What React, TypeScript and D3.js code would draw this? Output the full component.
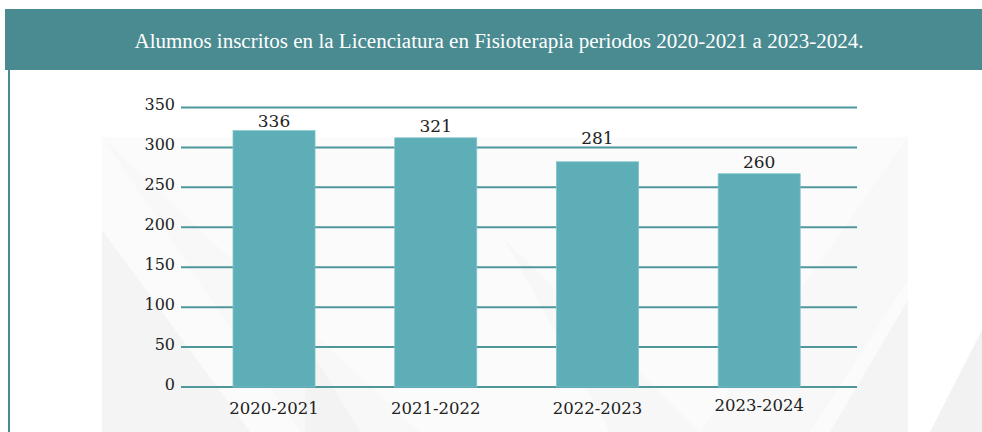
import React from "react";
import * as d3 from "d3";

const title = "Alumnos inscritos en la Licenciatura en Fisioterapia periodos 2020-2021 a 2023-2024.";
const periods = ["2020-2021", "2021-2022", "2022-2023", "2023-2024"];
// value labels printed above the bars
const labelValues = [336, 321, 281, 260];
const barValues = [321, 312, 282, 267];
const yTicks = [0, 50, 100, 150, 200, 250, 300, 350];

const W = 982;
const H = 432;

export default function App() {
  const x = d3.scaleBand<string>().domain(periods).range([192.6, 840.6]).paddingInner(0.493).paddingOuter(0.25);
  const y = d3.scaleLinear().domain([0, 350]).range([387, 107.5]);
  const gridX0 = 181;
  const gridX1 = 857;
  const numFont = "'DejaVu Serif', serif";
  const labelOffsets = [4, 6, 18, 6];

  return (
    <svg width={W} height={H} style={{ position: "absolute", left: 0, top: 0, display: "block" }}>
      <rect x={0} y={0} width={W} height={H} fill="#ffffff" />
      {/* faint watermark */}
      <g>
        <rect x={102} y={137} width={806} height={295} fill="#fbfbfb" />
        <polygon points="102,230 102,432 250,432" fill="#f4f4f4" />
        <polygon points="102,137 300,432 420,432 200,230" fill="#f7f7f7" opacity={0.7} />
        <polygon points="305,340 305,432 360,432" fill="#f0f0f0" opacity={0.6} />
        <polygon points="505,240 610,432 700,432" fill="#f5f5f5" opacity={0.7} />
        <polygon points="908,137 700,432 810,432 908,280" fill="#f6f6f6" opacity={0.7} />
        <polygon points="908,300 830,432 908,432" fill="#f0f0f0" opacity={0.6} />
        <polygon points="982,330 930,432 982,432" fill="#f2f2f2" />
      </g>
      {/* header */}
      <rect x={5} y={9} width={977} height={61} fill="#4a8b91" />
      <text
        x={499}
        y={48}
        textAnchor="middle"
        fill="#ffffff"
        fontFamily="'Liberation Serif', serif"
        fontSize={20}
        textLength={729}
        lengthAdjust="spacingAndGlyphs"
      >
        {title}
      </text>
      {/* left frame line */}
      <rect x={8} y={70} width={2} height={362} fill="#4a8b91" />
      {/* gridlines */}
      {yTicks.map((t) => (
        <line key={t} x1={gridX0} x2={gridX1} y1={y(t)} y2={y(t)} stroke="#4f979d" strokeWidth={2} />
      ))}
      {/* y tick labels */}
      {yTicks.map((t) => (
        <text
          key={"l" + t}
          x={175}
          y={y(t) - 2}
          textAnchor="end"
          dominantBaseline="middle"
          fontFamily={numFont}
          fontSize={16}
          fill="#222"
        >
          {t}
        </text>
      ))}
      {/* bars */}
      {periods.map((p, i) => (
        <rect
          key={p}
          x={x(p)}
          y={y(barValues[i])}
          width={x.bandwidth()}
          height={y(0) - y(barValues[i])}
          fill="#5daeb6"
          stroke="#7cc3c9"
          strokeWidth={0.8}
        />
      ))}
      {/* value labels */}
      {periods.map((p, i) => (
        <text
          key={"v" + p}
          x={(x(p) as number) + x.bandwidth() / 2}
          y={y(barValues[i]) - labelOffsets[i]}
          textAnchor="middle"
          fontFamily={numFont}
          fontSize={17}
          fill="#222"
        >
          {labelValues[i]}
        </text>
      ))}
      {/* x labels */}
      {periods.map((p, i) => (
        <text
          key={"x" + p}
          x={(x(p) as number) + x.bandwidth() / 2}
          y={i === 3 ? 411 : 414}
          textAnchor="middle"
          fontFamily={numFont}
          fontSize={16.5}
          fill="#222"
        >
          {p}
        </text>
      ))}
    </svg>
  );
}
